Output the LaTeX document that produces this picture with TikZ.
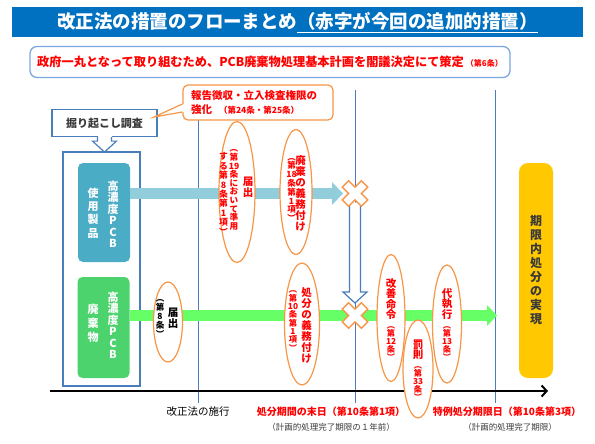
\documentclass[tikz,border=0pt]{standalone}
\usepackage{fontspec}
\setmainfont{Noto Sans CJK JP}
\usetikzlibrary{arrows.meta,positioning,shapes.geometric,calc}
\definecolor{titleblue}{HTML}{0070C0}
\definecolor{planline}{HTML}{7BA7E1}
\definecolor{blueline}{HTML}{4A7EBB}
\definecolor{lawline}{HTML}{F79646}
\definecolor{tealbox}{HTML}{4BACC6}
\definecolor{greenbox}{HTML}{4DD36E}
\definecolor{tealarrow}{HTML}{92CDDC}
\definecolor{greenarrow}{HTML}{66FF66}
\definecolor{goldbar}{HTML}{FFC800}
\definecolor{textred}{HTML}{FF0000}
\definecolor{darktext}{HTML}{3A3A3A}

\makeatletter
\newcommand\tatefont[2]{\fontsize{#1}{#2}\selectfont}
\newcommand\tatechars[1]{\@tfor\tate@c:=#1\do{\hbox to 12pt{\hss\tate@c\hss}}}
\makeatother
\newcommand\tate[3]{\vbox{\tatefont{#1}{#2}\tatechars{#3}}}

\tikzset{
  every node/.style={inner sep=0pt, font=\fontsize{10}{12}\selectfont},
  titlebar/.style={rectangle, fill=titleblue, text=white, minimum width=571pt,
    minimum height=30pt, font=\bfseries\fontsize{18.5}{22}\selectfont},
  planbox/.style={rectangle, rounded corners=7pt, draw=planline, line width=1.3pt,
    fill=white, minimum width=480pt, minimum height=31pt, text=textred,
    font=\bfseries\fontsize{12.2}{14}\selectfont},
  callout/.style={rectangle, rounded corners=5pt, draw=lawline, line width=1.2pt, fill=white},
  bluebox/.style={rectangle, draw=blueline, line width=1.2pt},
  itembox/.style={rectangle, rounded corners=5pt, minimum width=52pt},
  boxcol/.style={text=white, font=\bfseries},
  law/.style={ellipse, draw=lawline, line width=1.2pt, fill=white},
  lawcol/.style={text=textred, font=\bfseries},
  goalbar/.style={rectangle, rounded corners=9pt, fill=goldbar, minimum width=34pt,
    minimum height=215pt, text=darktext, font=\bfseries},
  fat/.style={line width=11pt, draw=#1},
  hollow/.style={draw=blueline, line width=1.2pt, fill=white, line join=miter},
  batsu/.style={draw=lawline, line width=1.3pt, fill=white, line join=miter},
  marker/.style={draw=blueline, line width=0.9pt},
  timeaxis/.style={line width=2pt, -{Straight Barb[length=5pt,width=11pt]}},
  datelabel/.style={text=textred, font=\bfseries\fontsize{10}{12}\selectfont},
  note/.style={text=darktext, font=\fontsize{8.5}{10}\selectfont},
}

\begin{document}
\begin{tikzpicture}[x=1pt,y=-1pt]
\useasboundingbox (0,0) rectangle (595,444);

% ---- Title and basic plan --------------------------------------------------
\node[titlebar] (title) at (297.5,22.5)
  {改正法の措置のフローまとめ\underline{（赤字が今回の追加的措置）}};
\node[planbox] (plan) at (270,62)
  {政府一丸となって取り組むため、PCB廃棄物処理基本計画を閣議決定にて策定\,{\fontsize{8}{9}\selectfont（第6条）}};

% ---- Time axis and milestones ----------------------------------------------
\coordinate (tstart) at (50,391);
\coordinate (tend) at (548,391);
\coordinate (enact) at (198,391);
\coordinate (deadline) at (355,391);
\coordinate (special) at (495,391);
\draw[marker] ($(enact)+(0,-281)$) -- ($(enact)+(0,12)$);
\foreach \m in {deadline,special}
  \draw[marker] ($(\m)+(0,-301)$) -- ($(\m)+(0,12)$);

% ---- Items -----------------------------------------------------------------
\node[bluebox, minimum width=77pt, minimum height=234pt] (stock) at (101.5,269) {};
\node[itembox, fill=tealbox, minimum height=99pt] (product) at (104,212.5) {};
\node[itembox, fill=greenbox, minimum height=101pt] (waste) at (103.5,327.5) {};
\node[boxcol] (productR) at (113,214.5) {\tate{11}{11.5}{高濃度PCB}};
\node[boxcol] (productL) at (93,213) {\tate{11}{13.3}{使用製品}};
\node[boxcol] (wasteR) at (113,325.5) {\tate{11}{11.5}{高濃度PCB}};
\node[boxcol] (wasteL) at (93,323) {\tate{11}{14}{廃棄物}};

% ---- Flows -----------------------------------------------------------------
\coordinate (cross1) at (355,193.5);
\coordinate (cross2) at (355,315.5);
\coordinate (goalin) at (497,315.5);
\draw[fat=tealarrow, -{Triangle[length=11pt,width=23pt,line width=0pt]}]
  (product.east |- cross1) -- ($(cross1)+(-12,0)$);
\draw[fat=greenarrow, -{Triangle[length=10pt,width=21pt,line width=0pt]}]
  (waste.east |- cross2) -- (goalin);
\begin{scope}[shift={(cross1)}]
  \draw[hollow] (-5.5,9) -- (-5.5,98.5) -- (-12,98.5) -- (0,109.5) -- (12,98.5)
    -- (5.5,98.5) -- (5.5,9);
\end{scope}
\foreach \c in {cross1,cross2}
  \draw[batsu, shift={(\c)}, rotate=45] (-4.5,-13.5) -- (4.5,-13.5) -- (4.5,-4.5)
    -- (13.5,-4.5) -- (13.5,4.5) -- (4.5,4.5) -- (4.5,13.5) -- (-4.5,13.5)
    -- (-4.5,4.5) -- (-13.5,4.5) -- (-13.5,-4.5) -- (-4.5,-4.5) -- cycle;

\draw[timeaxis] (tstart) -- (tend);

% ---- Legal measures --------------------------------------------------------
\node[law, minimum width=36pt, minimum height=141pt] (todoke19) at (237,192) {};
\node[lawcol] (todoke19a) at (248,187) {\tate{10.5}{11}{届出}};
\node[lawcol] (todoke19b) at (234,190) {\tate{8.6}{8.6}{︵第{19}条において準用}};
\node[lawcol] (todoke19c) at (223.5,194) {\tate{8.8}{9.4}{する第8条第1項︶}};

\node[law, minimum width=32pt, minimum height=125pt] (haiki) at (296,192) {};
\node[lawcol] (haikia) at (300.5,193.5) {\tate{10.5}{11}{廃棄の義務付け}};
\node[lawcol] (haikib) at (291.5,190) {\tate{8.5}{8.8}{︵第{18}条第1項︶}};

\node[law, minimum width=29pt, minimum height=80pt] (todoke8) at (168,322) {};
\node[lawcol, text=black] (todoke8a) at (173,318.5) {\tate{10.5}{11}{届出}};
\node[lawcol, text=black] (todoke8b) at (160,318) {\tate{8.5}{9}{︵第8条︶}};

\node[law, minimum width=35pt, minimum height=122pt] (shobun) at (302,324) {};
\node[lawcol] (shobuna) at (306.5,325) {\tate{10.5}{11}{処分の義務付け}};
\node[lawcol] (shobunb) at (293,321) {\tate{8.3}{8.3}{︵第{10}条第1項︶}};

\node[law, minimum width=28pt, minimum height=127pt] (kaizen) at (391,318) {};
\node[lawcol] (kaizena) at (391,319.5)
  {\vbox{\tatefont{10.5}{10.5}\tatechars{改善命令}\vskip2pt\tatefont{8.2}{8}\tatechars{︵第{12}条︶}}};
\node[law, minimum width=29pt, minimum height=118pt] (daishikko) at (447,324) {};
\node[lawcol] (daishikkoa) at (447,324.5)
  {\vbox{\tatefont{10.5}{10.5}\tatechars{代執行}\vskip2pt\tatefont{8.2}{8}\tatechars{︵第{13}条︶}}};
\node[law, minimum width=30pt, minimum height=98pt] (bassoku) at (418,369) {};
\node[lawcol] (bassokua) at (418,370)
  {\vbox{\tatefont{10.5}{10.5}\tatechars{罰則}\vskip2pt\tatefont{8.2}{8}\tatechars{︵第{33}条︶}}};

% ---- Goal ------------------------------------------------------------------
\node[goalbar] (goal) at (536,270.5) {\tate{12}{14}{期限内処分の実現}};

% ---- Survey and report powers ----------------------------------------------
\node[bluebox, fill=white, minimum width=105pt, minimum height=27pt, text=darktext,
  font=\bfseries\fontsize{11}{13}\selectfont] (dig) at (104.5,123) {掘り起こし調査};
\begin{scope}[shift={(dig.south)}]
  \fill[white] (-7,-1.5) rectangle (7,4);
  \draw[hollow] (-7,0) -- (-7,4) -- (-12,4) -- (0,15) -- (12,4) -- (7,4) -- (7,0);
\end{scope}

\node[callout, text width=134pt, inner xsep=8pt, minimum height=35pt, align=left,
  text=textred, font=\bfseries\fontsize{10.5}{14}\selectfont] (report) at (258,102.5)
  {報告徴収・立入検査権限の\\強化\ \ {\fontsize{8.5}{14}\selectfont（第24条・第25条）}};
\coordinate (reporttip) at (154,117);
\fill[white] ($(report.west)+(1.5,1.5)$) -- (reporttip) -- ($(report.west)+(1.5,9.5)$) -- cycle;
\draw[lawline, line width=1.2pt] ($(report.west)+(0,1.5)$) -- (reporttip)
  -- ($(report.west)+(0,9.5)$);

% ---- Milestone labels ------------------------------------------------------
\node[font=\fontsize{10.5}{12}\selectfont] (enactlabel) at (198,412) {改正法の施行};
\node[datelabel] (deadlinelabel) at (331,412) {処分期間の末日（第10条第1項）};
\node[note] (deadlinenote) at (331,427) {（計画的処理完了期限の１年前）};
\node[datelabel] (speciallabel) at (507,412) {特例処分期限日（第10条第3項）};
\node[note] (specialnote) at (510,427) {（計画的処理完了期限）};

\end{tikzpicture}
\end{document}
